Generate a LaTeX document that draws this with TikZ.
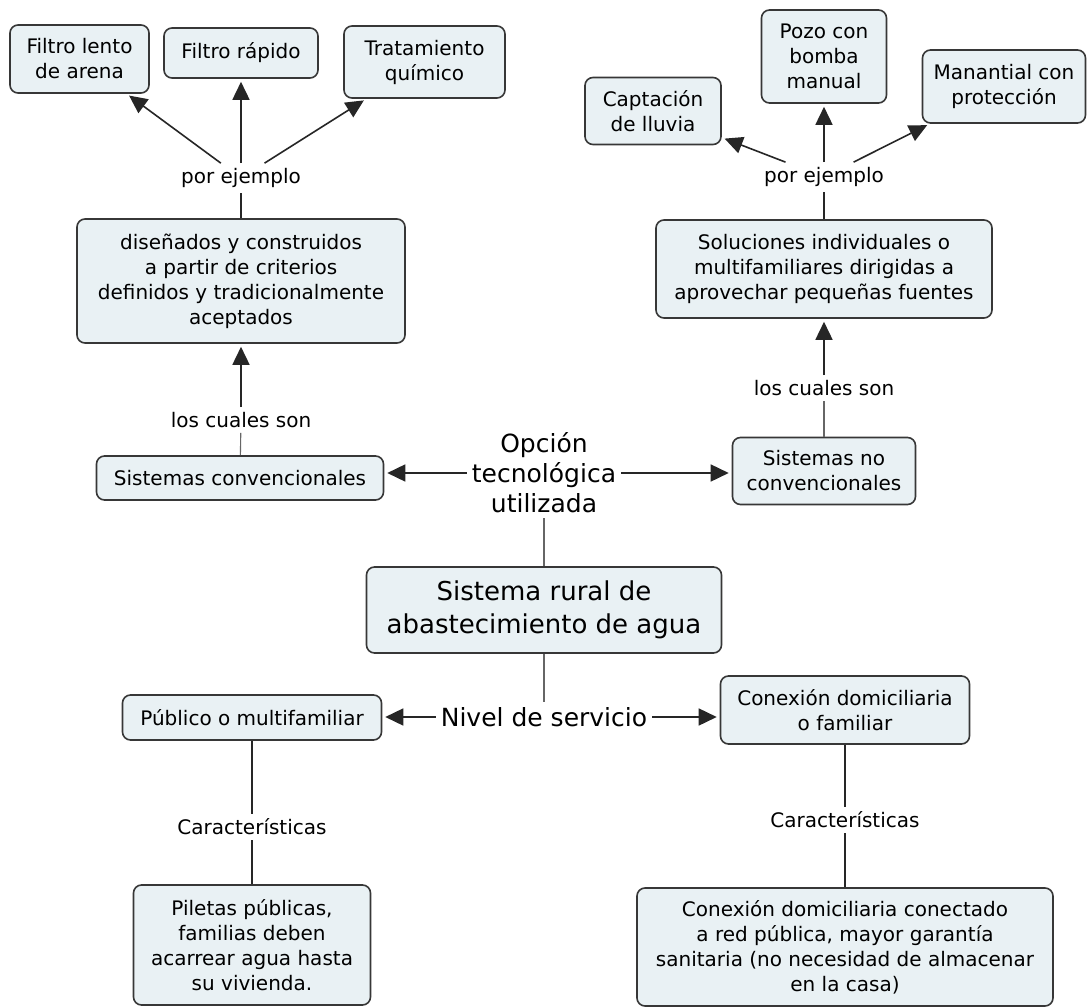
\documentclass[tikz,border=0pt]{standalone}
\usepackage{fontspec}
\setmainfont{DejaVu Sans}
\usetikzlibrary{arrows.meta}
\definecolor{cajafondo}{RGB}{233,241,244}
\definecolor{cajaborde}{RGB}{55,55,55}

\begin{document}
\begin{tikzpicture}[x=1pt,y=-1pt,
  concepto/.style={draw=cajaborde,fill=cajafondo,line width=1.6pt,rounded corners=8pt,align=center,inner sep=0pt,font=\fontsize{20}{25}\selectfont},
  enlace/.style={align=center,inner sep=5pt,font=\fontsize{20}{25}\selectfont},
  grande/.style={align=center,inner sep=5pt,font=\fontsize{25}{30}\selectfont},
  flecha/.style={draw=black!85,line width=1.6pt,shorten >=3pt,-{Triangle[length=18pt,width=17pt]}},
  linea/.style={draw=black!85,line width=1.6pt},
  lineafina/.style={draw=black!60,line width=1.1pt}]
  \useasboundingbox[fill=white] (0,0) rectangle (1090,1008);
  \node[concepto,minimum width=139pt,minimum height=68pt] (lento) at (79.5,59) {Filtro lento\\de arena};
  \node[concepto,minimum width=154pt,minimum height=50pt] (rapido) at (241,53) {Filtro rápido};
  \node[concepto,minimum width=161pt,minimum height=72pt] (quimico) at (424.5,62) {Tratamiento\\químico};
  \node[concepto,minimum width=136pt,minimum height=67pt] (lluvia) at (653,111) {Captación\\de lluvia};
  \node[concepto,minimum width=125pt,minimum height=93pt] (pozo) at (824,56.5) {Pozo con\\bomba\\manual};
  \node[concepto,minimum width=163pt,minimum height=73pt] (manantial) at (1004,86.5) {Manantial con\\protección};
  \node[concepto,minimum width=328pt,minimum height=124pt] (disenados) at (241,281) {diseñados y construidos\\a partir de criterios\\definidos y tradicionalmente\\aceptados};
  \node[concepto,minimum width=336pt,minimum height=98pt] (soluciones) at (824,269) {Soluciones individuales o\\multifamiliares dirigidas a\\aprovechar pequeñas fuentes};
  \node[concepto,minimum width=287pt,minimum height=44pt] (conv) at (240,478) {Sistemas convencionales};
  \node[concepto,minimum width=183pt,minimum height=67pt] (noconv) at (824,471) {Sistemas no\\convencionales};
  \node[concepto,minimum width=355pt,minimum height=86pt,font=\fontsize{26}{33}\selectfont] (rural) at (544,610) {Sistema rural de\\abastecimiento de agua};
  \node[concepto,minimum width=259pt,minimum height=45pt] (publico) at (252,717.5) {Público o multifamiliar};
  \node[concepto,minimum width=249pt,minimum height=68pt] (domic) at (845,710) {Conexión domiciliaria\\o familiar};
  \node[concepto,minimum width=237pt,minimum height=120pt] (piletas) at (252,945) {Piletas públicas,\\familias deben\\acarrear agua hasta\\su vivienda.};
  \node[concepto,minimum width=416pt,minimum height=118pt] (conectado) at (845,947) {Conexión domiciliaria conectado\\a red pública, mayor garantía\\sanitaria (no necesidad de almacenar\\en la casa)};

  \node[enlace] (ej1) at (241,178) {por ejemplo};
  \node[enlace] (ej2) at (824,177) {por ejemplo};
  \node[enlace] (son1) at (241,420) {los cuales son};
  \node[enlace] (son2) at (824,388) {los cuales son};
  \node[grande] (opcion) at (544,473) {Opción\\tecnológica\\utilizada};
  \node[grande] (nivel) at (544,717) {Nivel de servicio};
  \node[enlace] (car1) at (252,827) {Características};
  \node[enlace] (car2) at (845,820) {Características};

  \draw[flecha] (ej1) -- (lento);
  \draw[flecha] (ej1) -- (rapido);
  \draw[flecha] (ej1) -- (quimico);
  \draw[linea] (disenados) -- (ej1);
  \draw[lineafina] (conv) -- (son1);
  \draw[flecha] (son1) -- (disenados);
  \draw[flecha] (opcion.west) -- (opcion.west -| conv.east);
  \draw[flecha] (opcion.east) -- (opcion.east -| noconv.west);
  \draw[lineafina] (rural) -- (opcion);
  \draw[lineafina] (noconv) -- (son2);
  \draw[flecha] (son2) -- (soluciones);
  \draw[linea] (soluciones) -- (ej2);
  \draw[flecha] (ej2) -- (lluvia);
  \draw[flecha] (ej2) -- (pozo);
  \draw[flecha] (ej2) -- (manantial);
  \draw[lineafina] (rural) -- (nivel);
  \draw[flecha] (nivel.west) -- (nivel.west -| publico.east);
  \draw[flecha] (nivel.east) -- (nivel.east -| domic.west);
  \draw[linea] (publico) -- (car1);
  \draw[linea] (car1) -- (piletas);
  \draw[linea] (domic) -- (car2);
  \draw[linea] (car2) -- (conectado);
\end{tikzpicture}
\end{document}
